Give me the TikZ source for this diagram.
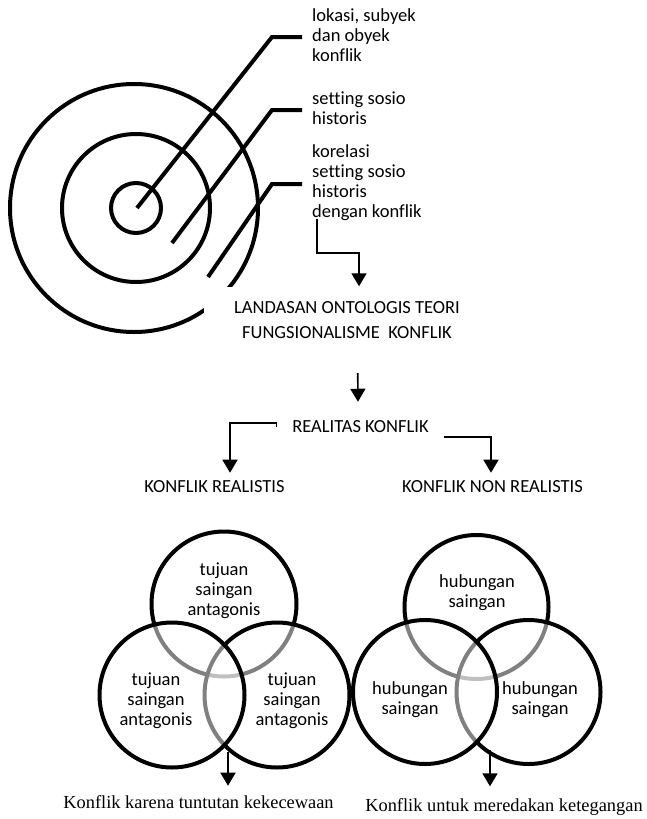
\documentclass[tikz,border=0pt]{standalone}
\usepackage{fontspec}
\setmainfont{Carlito}[Ligatures=NoCommon]
\newfontfamily\timesfont{Liberation Serif}
\usetikzlibrary{arrows.meta,calc}

\begin{document}
\begin{tikzpicture}[x=1pt,y=-1pt,
  heavy/.style={line width=4pt},
  conn/.style={line width=1.6pt,-{Triangle[width=15pt,length=13pt]}},
  lbl/.style={font=\fontsize{18.5}{20}\selectfont, align=left, inner sep=0pt, anchor=west},
  capsbox/.style={font=\fontsize{18.5}{25}\selectfont, align=center, inner sep=0pt},
  capsnode/.style={font=\fontsize{18.5}{20}\selectfont, inner xsep=0pt, inner ysep=8pt},
  venntext/.style={font=\fontsize{18.5}{20}\selectfont, align=center, inner sep=0pt},
  venn/.style={line width=4pt, draw=black, fill=white, fill opacity=0.5, draw opacity=1},
  foot/.style={font=\timesfont\fontsize{18.4}{20}\selectfont, inner xsep=0pt, inner ysep=10pt}
]
\useasboundingbox (0,0) rectangle (647,819);

% target of concentric rings
\draw[heavy] (134,208) circle[radius=124];
\draw[heavy] (136,208) circle[radius=74];
\draw[heavy] (136,208) circle[radius=25];

% leader lines to the ring labels
\draw[heavy] (137,208) -- (272,37) -- (302,37);
\draw[heavy] (172,243) -- (272,110) -- (302,110);
\draw[heavy] (208,277) -- (272,184) -- (302,184);

\node[lbl] (ring1) at (312,35) {lokasi, subyek\\dan obyek\\konflik};
\node[lbl] (ring2) at (312,108) {setting sosio\\historis};
\node[lbl] (ring3) at (312,183) {korelasi\\setting sosio\\historis\\dengan konflik};

% title box (white, lies over the outer ring)
\node[capsbox, fill=white, minimum width=286pt, minimum height=68pt] (land) at (347,320.5)
  {LANDASAN ONTOLOGIS TEORI\\FUNGSIONALISME\ \ KONFLIK};

\draw[conn] ([xshift=5pt]ring3.south west) ++(0,-2) -- ++(0,34) -| ([xshift=12pt]land.north);

\node[capsnode, inner xsep=15.5pt, inner ysep=19pt] (real) at (360.5,427) {REALITAS KONFLIK};
\draw[conn, shorten <=18.5pt] ([xshift=10.5pt]land.south) -- ([xshift=-2.5pt]real.north);

\node[capsnode] (kr) at (214.5,487) {KONFLIK REALISTIS};
\node[capsnode] (knr) at (492.5,487) {KONFLIK NON REALISTIS};

\draw[conn] (real.west) -- ++(0,-4) -| ([xshift=15.5pt]kr.north);
\draw[conn] ([yshift=-10pt]real.east) -| ([xshift=-1.5pt]knr.north);

% left group of circles
\draw[venn] (224,604) circle[radius=72.5];
\draw[venn] (277,695) circle[radius=72.5];
\draw[venn] (172,695) circle[radius=72.5];
\node[venntext] (lt) at (224,590.6) {tujuan\\saingan\\antagonis};
\node[venntext] (ll) at (156,700.6) {tujuan\\saingan\\antagonis};
\node[venntext] (lr) at (292,700.6) {tujuan\\saingan\\antagonis};

% right group of circles
\draw[venn] (476.5,607) circle[radius=72];
\draw[venn] (528.5,692) circle[radius=72];
\draw[venn] (425,692) circle[radius=72];
\node[venntext] (rt) at (477,593) {hubungan\\saingan};
\node[venntext] (rl) at (410,700) {hubungan\\saingan};
\node[venntext] (rr) at (540,700) {hubungan\\saingan};

% outcomes
\node[foot] (out1) at (198.5,802.5) {Konflik karena tuntutan kekecewaan};
\node[foot, inner ysep=12pt] (out2) at (504,807) {Konflik untuk meredakan ketegangan};
\coordinate (lmeet) at (228,752);
\coordinate (rmeet) at (490,750);
\draw[conn] (lmeet) -- (lmeet |- out1.north);
\draw[conn] (rmeet) -- (rmeet |- out2.north);
\end{tikzpicture}
\end{document}
